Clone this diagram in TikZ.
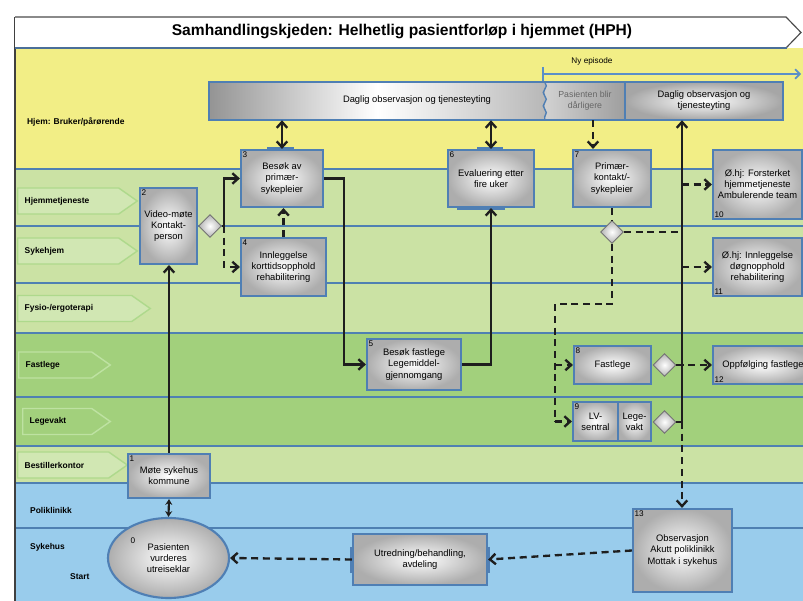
\documentclass[tikz,border=0pt]{standalone}
\usepackage{fontspec}
\setmainfont{Liberation Sans}
\usepackage{xcolor}
\definecolor{hjemylw}{HTML}{F2EE86}
\definecolor{lanegrn}{HTML}{CBE2A4}
\definecolor{lanedgrn}{HTML}{A2D07C}
\definecolor{laneblu}{HTML}{99CCEC}
\definecolor{lanerule}{HTML}{4F80B2}
\definecolor{boxblue}{HTML}{4F7FB4}
\definecolor{tagedge}{HTML}{AED98C}
\definecolor{tagfill}{HTML}{D1E7B3}
\definecolor{tagedgedk}{HTML}{BEE2A2}
\definecolor{flowc}{HTML}{1E1E1E}
\definecolor{episode}{HTML}{5B8FC8}
\definecolor{titlerule}{HTML}{4B6F99}
\usepackage{tikz}
\usetikzlibrary{arrows.meta, shapes.geometric, shapes.symbols, calc, decorations.pathmorphing}

\begin{document}
\begin{tikzpicture}[x=0.03cm, y=-0.03cm,
  task/.style={rectangle, draw=boxblue, line width=1.8pt, inner color=white,
    outer color=black!32, align=center, inner sep=1pt,
    font=\fontsize{8}{9.5}\selectfont},
  gate/.style={diamond, draw=black!55, line width=0.8pt, inner color=white,
    outer color=black!30, minimum size=0.69cm, inner sep=0pt},
  lanetag/.style={signal, signal to=east, signal pointer angle=70,
    draw=tagedge, line width=1.2pt, fill=tagfill, minimum height=0.78cm,
    inner xsep=0.21cm, align=left, anchor=west,
    font=\fontsize{7.2}{8}\selectfont\bfseries},
  lanename/.style={anchor=west, font=\fontsize{7.2}{8}\selectfont\bfseries},
  numtag/.style={inner sep=2pt, font=\fontsize{7}{8}\selectfont},
  laneline/.style={draw=lanerule, line width=1.8pt},
  conn/.style={draw=flowc, line width=2pt, -{Straight Barb[length=5pt, width=9pt]}},
  dconn/.style={conn, dash pattern=on 6pt off 4pt},
  dline/.style={draw=flowc, line width=2pt, dash pattern=on 6pt off 4pt},
  twoway/.style={draw=flowc, line width=2pt,
    {Straight Barb[length=5pt, width=9pt]}-{Straight Barb[length=5pt, width=9pt]}},
  bluebar/.style={draw=boxblue, line width=3pt}]

  \useasboundingbox (0,0) rectangle (803,601);
  \clip (0,0) rectangle (803,601);

  % Lanes
  \fill[hjemylw] (15,48) rectangle (803,169);
  \fill[lanegrn] (15,169) rectangle (803,333);
  \fill[lanedgrn] (15,333) rectangle (803,446);
  \fill[lanegrn] (15,446) rectangle (803,483);
  \fill[laneblu] (15,483) rectangle (803,601);
  \draw[laneline] (15,169) -- (803,169);
  \draw[laneline] (15,226) -- (803,226);
  \draw[laneline] (15,283) -- (803,283);
  \draw[laneline] (15,333) -- (803,333);
  \draw[laneline] (15,397) -- (803,397);
  \draw[laneline] (15,446) -- (803,446);
  \draw[laneline] (15,483) -- (803,483);
  \draw[laneline] (15,528) -- (803,528);
  \draw[black!75, line width=1.2pt] (15,17) -- (15,601);

  % Title
  \draw[black!70, line width=1pt, fill=white] (15,17) -- (786,17) -- (801,32.5) -- (786,48) -- (15,48);
  \draw[titlerule, line width=2.5pt] (15,48) -- (787,48);
  \node[font=\fontsize{13.3}{15}\selectfont\bfseries] (title) at (402,32) {Samhandlingskjeden: Helhetlig pasientforløp i hjemmet (HPH)};

  % Lane names
  \node[lanename] (hjem) at (23,122) {Hjem: Bruker/pårørende};
  \node[lanetag, text width=2.61cm] (hjt) at (17,201) {Hjemmetjeneste};
  \node[lanetag, text width=2.61cm] (skh) at (17,251) {Sykehjem};
  \node[lanetag, text width=3.0cm] (fys) at (17,308.5) {Fysio-/ergoterapi};
  \node[lanetag, draw=tagedgedk, fill=lanedgrn, text width=1.77cm] (fl) at (18,365) {Fastlege};
  \node[lanetag, draw=tagedgedk, fill=lanedgrn, text width=1.65cm] (lv) at (22,421.5) {Legevakt};
  \node[lanetag, text width=2.31cm] (bk) at (17,465) {Bestillerkontor};
  \node[lanename] (pol) at (26,510) {Poliklinikk};
  \node[lanename] (sh) at (26,547) {Sykehus};
  \node[lanename] (start) at (66,577) {Start};

  % Daglig observasjon band
  \node[minimum width=10.08cm, minimum height=1.14cm, inner sep=0pt,
    left color=black!42, right color=black!28, middle color=white] (band1) at (377,101) {};
  \node[minimum width=2.4cm, minimum height=1.14cm, inner sep=0pt, align=center,
    left color=black!18, right color=black!38, text=black!60,
    font=\fontsize{7.5}{9}\selectfont] (band2) at (585,101) {Pasienten blir\\dårligere};
  \node[minimum width=4.74cm, minimum height=1.14cm, inner sep=0pt, align=center,
    inner color=white, outer color=black!35,
    font=\fontsize{8}{9.5}\selectfont] (band3) at (704,101) {Daglig observasjon og\\tjenesteyting};
  \draw[boxblue, line width=1.8pt] (band1.north west) rectangle (band3.south east);
  \draw[boxblue, line width=1.8pt] (band3.north west) -- (band3.south west);
  \draw[boxblue, line width=1.2pt, decorate, decoration={snake, amplitude=1.3pt, segment length=0.4cm}]
    (band2.north west) -- (band2.south west);
  \node[font=\fontsize{8}{9.5}\selectfont] (band1txt) at (417,100) {Daglig observasjon og tjenesteyting};

  % Ny episode
  \coordinate (ny0) at (543,74);
  \coordinate (ny1) at (801,74);
  \draw[episode, line width=1.5pt, -{Straight Barb[length=4pt, width=8pt]}] (ny0) -- (ny1);
  \draw[episode, line width=1pt] (543,67) -- (543,81);
  \node[font=\fontsize{7}{8}\selectfont] (ny) at (592,61) {Ny episode};

  % Tasks
  \node[task, minimum width=2.46cm, minimum height=1.32cm,
    label={[numtag, anchor=north west]north west:1}] (b1) at (169,476) {Møte sykehus\\kommune};
  \node[task, minimum width=1.71cm, minimum height=2.28cm,
    label={[numtag, anchor=north west]north west:2}] (b2) at (168.5,226) {Video-møte\\Kontakt-\\person};
  \node[task, minimum width=2.46cm, minimum height=1.71cm,
    label={[numtag, anchor=north west]north west:3}] (b3) at (282,178.5) {Besøk av\\primær-\\sykepleier};
  \node[task, minimum width=2.55cm, minimum height=1.74cm,
    label={[numtag, anchor=north west]north west:4}] (b4) at (283.5,267) {Innleggelse\\korttidsopphold\\rehabilitering};
  \node[task, minimum width=2.82cm, minimum height=1.53cm,
    label={[numtag, anchor=north west]north west:5}] (b5) at (414,364.5) {Besøk fastlege\\Legemiddel-\\gjennomgang};
  \node[task, minimum width=2.58cm, minimum height=1.71cm,
    label={[numtag, anchor=north west]north west:6}] (b6) at (491,178.5) {Evaluering etter\\fire uker};
  \node[task, minimum width=2.34cm, minimum height=1.71cm,
    label={[numtag, anchor=north west]north west:7}] (b7) at (612,178.5) {Primær-\\kontakt/-\\sykepleier};
  \node[task, minimum width=2.31cm, minimum height=1.14cm,
    label={[numtag, anchor=north west]north west:8}] (b8) at (612.5,365) {Fastlege};
  \node[task, minimum width=1.35cm, minimum height=1.17cm,
    label={[numtag, anchor=north west]north west:9}] (lvs) at (595.5,421.5) {LV-\\sentral};
  \node[task, minimum width=0.99cm, minimum height=1.17cm] (lvk) at (634.5,421.5) {Lege-\\vakt};
  \node[task, minimum width=2.67cm, minimum height=2.07cm,
    label={[numtag, anchor=south west]south west:10}] (b10) at (757.5,184.5) {Ø.hj: Forsterket\\hjemmetjeneste\\Ambulerende team};
  \node[task, minimum width=2.67cm, minimum height=1.74cm,
    label={[numtag, anchor=south west]south west:11}] (b11) at (757.5,267) {Ø.hj: Innleggelse\\døgnopphold\\rehabilitering};
  \node[task, minimum width=3.0cm, minimum height=1.14cm,
    label={[numtag, anchor=south west]south west:12}] (b12) at (763,365) {Oppfølging fastlege};
  \node[task, minimum width=2.97cm, minimum height=2.49cm,
    label={[numtag, anchor=north west]north west:13}] (b13) at (682.5,550.5) {Observasjon\\Akutt poliklinikk\\Mottak i sykehus};
  \node[task, minimum width=4.02cm, minimum height=1.53cm] (utr) at (420,559.5) {Utredning/behandling,\\avdeling};
  \node[ellipse, draw=boxblue, line width=1.8pt, inner color=white, outer color=black!32,
    minimum width=3.63cm, minimum height=2.4cm, align=center,
    font=\fontsize{8}{9.5}\selectfont] (ell) at (168.5,558) {Pasienten\\vurderes\\utreiseklar};
  \node[numtag] (n0) at (133,541) {0};

  % Gateways
  \node[gate] (gw1) at (210,226) {};
  \node[gate] (gw7) at (612,232) {};
  \node[gate] (gwfl) at (664.5,365) {};
  \node[gate] (gwlv) at (664.5,422) {};

  % Blue markers
  \draw[bluebar] ([xshift=-0.45cm]b3.north) -- ([xshift=0.36cm]b3.north);
  \draw[bluebar] ([xshift=-0.42cm]b6.north) -- ([xshift=0.36cm]b6.north);
  \draw[bluebar] ([xshift=-1.02cm]b6.south) -- ([xshift=0.42cm]b6.south);
  \draw[bluebar] ([yshift=0.38cm]utr.west) -- ([yshift=-0.4cm]utr.west);
  \draw[bluebar] ([yshift=0.38cm]utr.east) -- ([yshift=-0.4cm]utr.east);

  % Connectors
  \coordinate (j1) at (224,226);
  \coordinate (j2) at (344,300);
  \coordinate (j3) at (682,422);
  \coordinate (j4) at (555,304);
  \draw[conn] (b1.north) -- (b1.north |- b2.south);
  \draw[draw=flowc, line width=1.8pt, {Stealth[length=5pt, width=6pt]}-{Stealth[length=5pt, width=6pt]}] (b1.south) -- (ell.north);
  \draw[conn] (gw1.east) -- (j1) |- (b3.west);
  \draw[dconn] (j1) |- (b4.west);
  \draw[dconn] (b4.north) -- (b4.north |- b3.south);
  \draw[twoway] (band1.south -| b3.north) -- (b3.north);
  \draw[conn] (b3.east) -| (j2) |- (b5.west);
  \draw[conn] (b5.east) -| (b6.south);
  \draw[twoway] (band1.south -| b6.north) -- (b6.north);
  \draw[dconn] ([xshift=0.24cm]band2.south) -- ([xshift=0.24cm]band2.south |- b7.north);
  \draw[dline] (b7.south) -- (gw7.north);
  \draw[dline] (gw7.east) -- (gw7.east -| j3);
  \draw[dline] (gw7.south) |- (j4) -- (j4 |- lvs.west);
  \draw[dconn] (j4 |- b8.west) -- (b8.west);
  \draw[dconn] (j4 |- lvs.west) -- (lvs.west);
  \draw[conn] (gwlv.east) -- (j3) -- (j3 |- band3.south);
  \draw[dconn] (j3) -- (j3 |- b13.north);
  \draw[dconn] (j3 |- b10.west) -- (b10.west);
  \draw[dconn] (j3 |- b11.west) -- (b11.west);
  \draw[dconn] (gwfl.east) -- (b12.west);
  \draw[dconn] (b13.west) -- (utr.east);
  \draw[dconn] (utr.west) -- (ell.east);
\end{tikzpicture}
\end{document}
